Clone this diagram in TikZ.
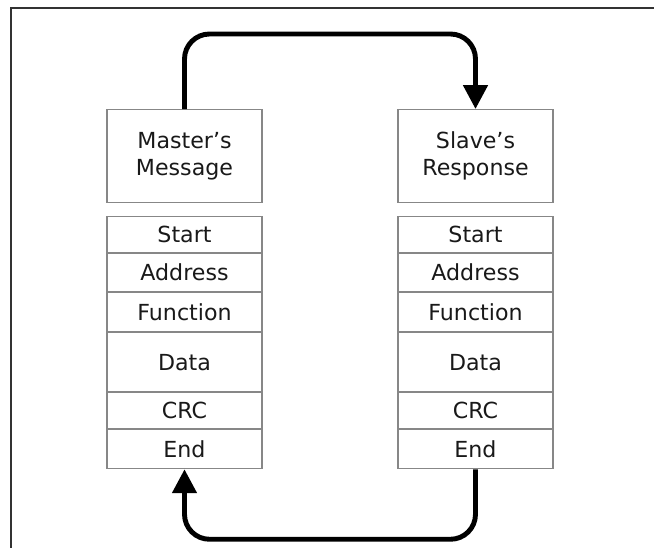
\documentclass[tikz,border=0pt]{standalone}
\usepackage{fontspec}
\setmainfont{DejaVu Sans}
\usetikzlibrary{arrows.meta,positioning}
\definecolor{boxgray}{RGB}{135,135,135}
\definecolor{framegray}{RGB}{50,50,50}

\begin{document}
\begin{tikzpicture}[x=0.02cm,y=-0.02cm,
    field/.style={draw=boxgray,line width=0.6pt,minimum width=3.1cm,inner sep=0pt,
      font=\fontsize{12.6}{15.4}\selectfont,text=black!90,align=center},
    flow/.style={-{Triangle[length=13.6pt,width=13.6pt]},line width=2.8pt,rounded corners=0.5cm}]
  \useasboundingbox (0,0) rectangle (654,548);
  % cropped frame: only top and left edges show
  \draw[framegray,line width=1.1pt] (11,548) -- (11,8) -- (654,8);
  % Left: master's message
  \node[field,minimum height=1.86cm,anchor=north] (mhead) at (184.5,109) {Master’s\\Message};
  \node[field,minimum height=0.72cm,anchor=north] (mstart) at (184.5,216) {Start};
  \node[field,minimum height=0.76cm,below=0pt of mstart] (maddr) {Address};
  \node[field,minimum height=0.78cm,below=0pt of maddr] (mfunc) {Function};
  \node[field,minimum height=1.18cm,below=0pt of mfunc] (mdata) {Data};
  \node[field,minimum height=0.72cm,below=0pt of mdata] (mcrc) {CRC};
  \node[field,minimum height=0.78cm,below=0pt of mcrc] (mend) {End};
  % Right: slave's response
  \node[field,minimum height=1.86cm,anchor=north] (shead) at (475.5,109) {Slave’s\\Response};
  \node[field,minimum height=0.72cm,anchor=north] (sstart) at (475.5,216) {Start};
  \node[field,minimum height=0.76cm,below=0pt of sstart] (saddr) {Address};
  \node[field,minimum height=0.78cm,below=0pt of saddr] (sfunc) {Function};
  \node[field,minimum height=1.18cm,below=0pt of sfunc] (sdata) {Data};
  \node[field,minimum height=0.72cm,below=0pt of sdata] (scrc) {CRC};
  \node[field,minimum height=0.78cm,below=0pt of scrc] (send) {End};
  % request goes over the top, reply comes back underneath
  \draw[flow] (mhead.north) -- ++(0,-75) -| (shead.north);
  \draw[flow] (send.south) -- ++(0,70) -| (mend.south);
\end{tikzpicture}
\end{document}
